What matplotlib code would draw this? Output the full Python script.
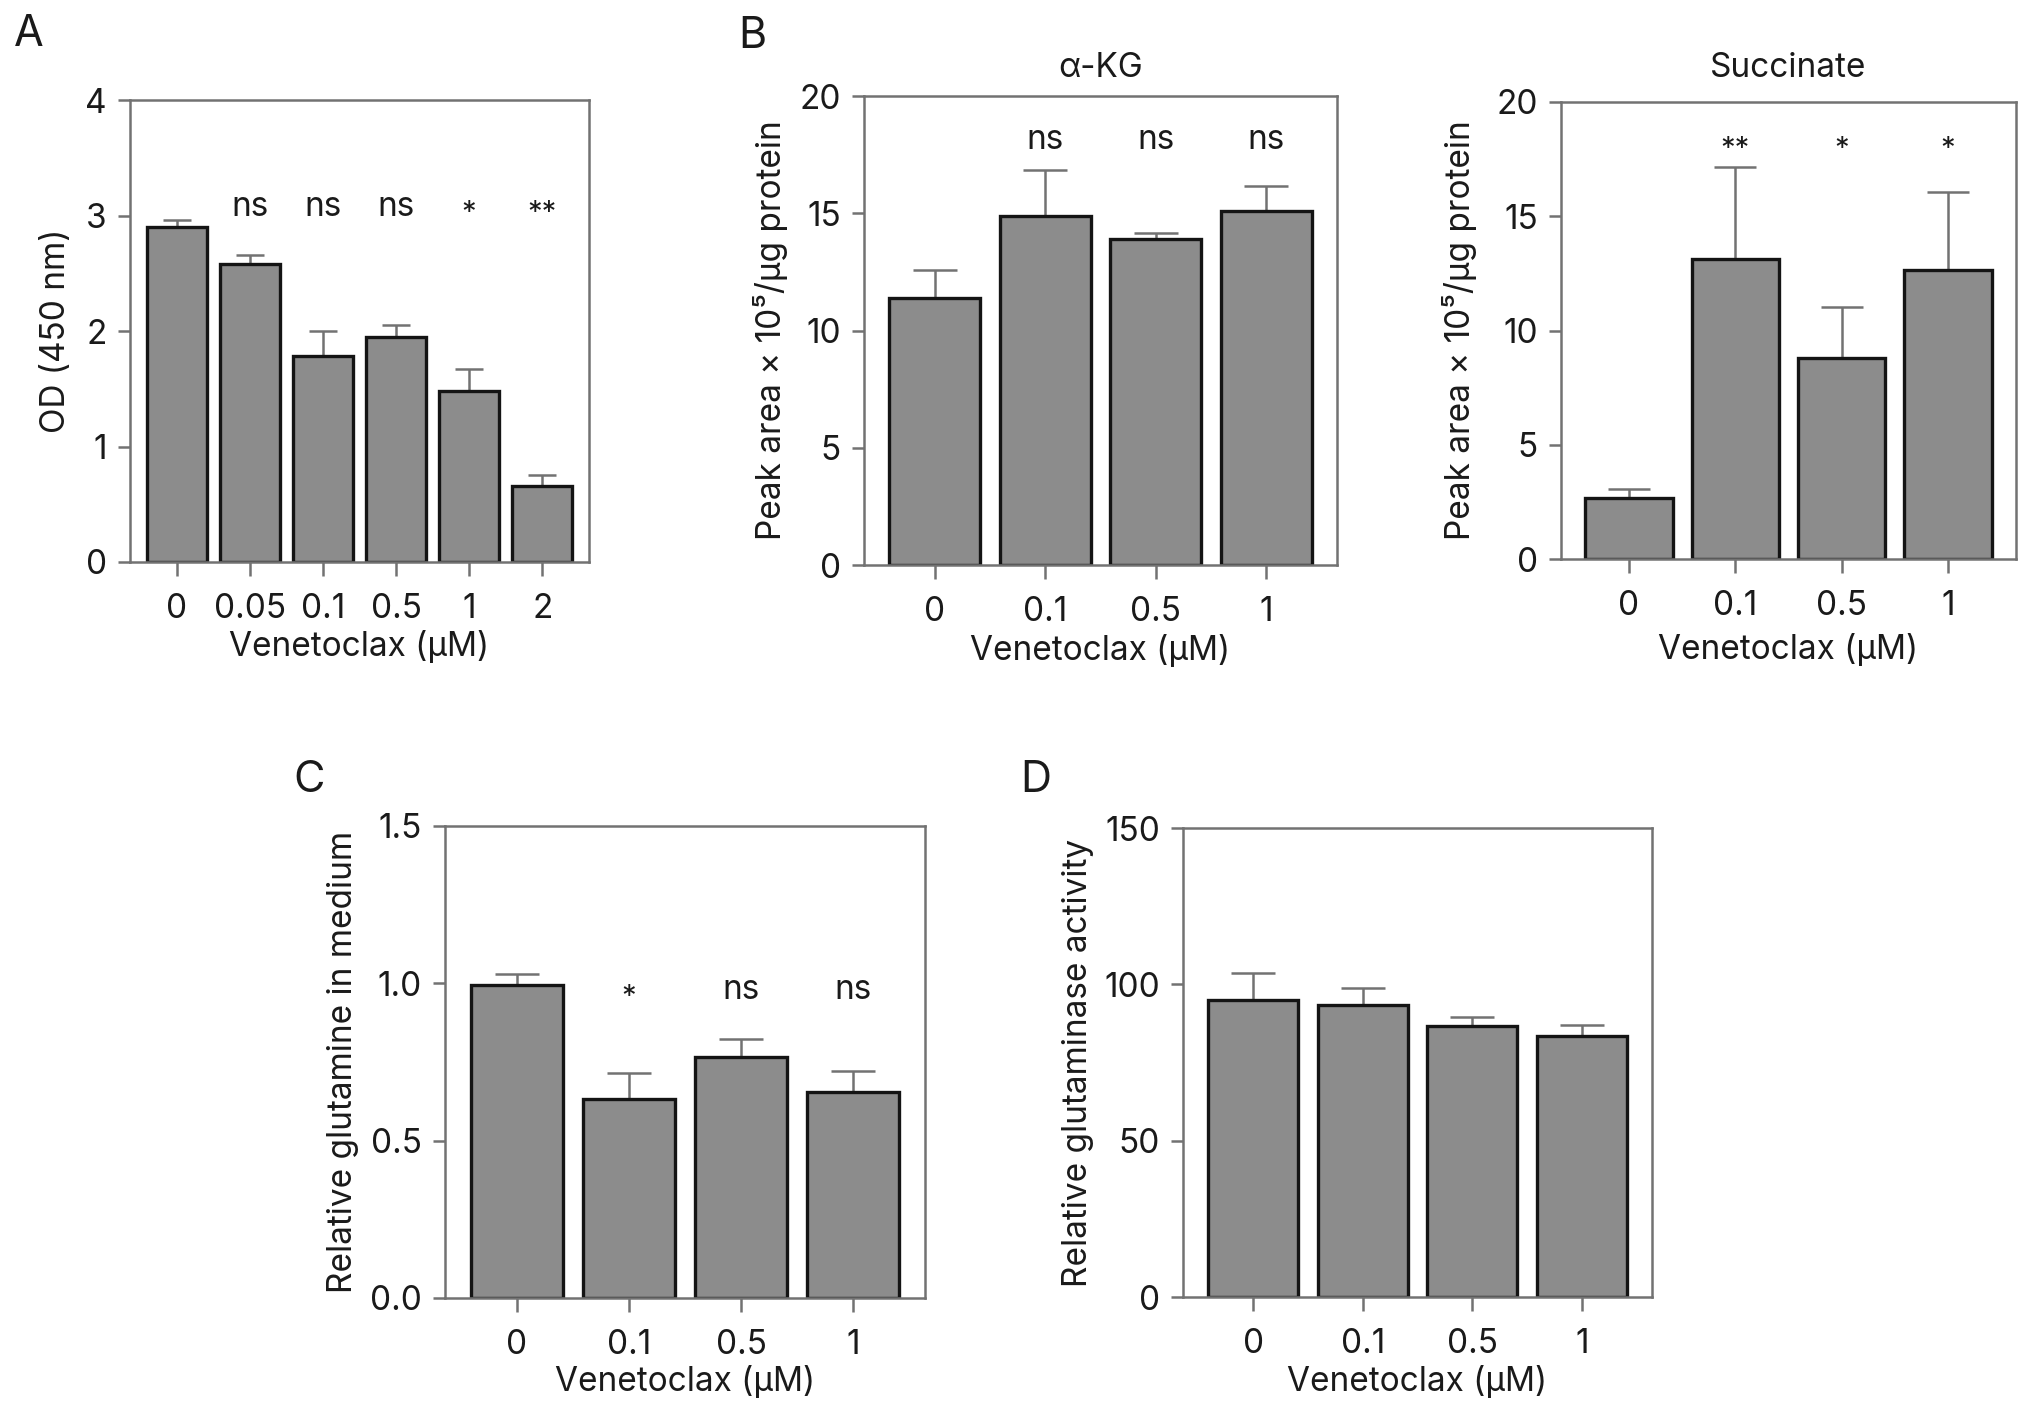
import matplotlib
matplotlib.use("Agg")
import matplotlib.pyplot as plt
import matplotlib.transforms as mtransforms

plt.rcParams['font.family'] = ['Inter', 'DejaVu Sans']

# Datos
dosis_a = ['0', '0.05', '0.1', '0.5', '1', '2']
od_a = [2.90, 2.58, 1.78, 1.95, 1.48, 0.66]
od_a_err = [0.06, 0.08, 0.22, 0.10, 0.19, 0.09]
sig_a = ['', 'ns', 'ns', 'ns', '*', '**']

dosis_b = ['0', '0.1', '0.5', '1']
akg = [11.37, 14.89, 13.92, 15.10]
akg_err = [1.22, 1.94, 0.25, 1.07]
sig_akg = ['', 'ns', 'ns', 'ns']

succ = [2.66, 13.12, 8.78, 12.64]
succ_err = [0.42, 4.03, 2.25, 3.44]
sig_succ = ['', '**', '*', '*']

glut = [0.994, 0.633, 0.766, 0.654]
glut_err = [0.036, 0.081, 0.058, 0.068]
sig_glut = ['', '*', 'ns', 'ns']

gls = [95.0, 93.3, 86.8, 83.4]
gls_err = [8.6, 5.6, 2.8, 3.7]

xlab = 'Venetoclax (\u00b5M)'
ylab_pico = 'Peak area \u00d7 10\u2075/\u00b5g protein'

W, H = 2032, 1410
TXT = '#1a1a1a'
GRIS = '#727272'
FS = 24

fig = plt.figure(figsize=(W / 100, H / 100), dpi=100)


def caja(x0, y0, x1, y1):
    # pixeles (desde arriba) -> fraccion de figura
    return [x0 / W, 1 - y1 / H, (x1 - x0) / W, (y1 - y0) / H]


def panel(box, etiquetas, valores, errores, ymax, yticks, ylabel, ylab_x, xlab_y,
          sig=None, sig_y=None, titulo=None, titulo_pad=14):
    ax = fig.add_axes(caja(*box))
    n = len(valores)
    x = list(range(n))
    ancho_px = (box[2] - box[0]) / (n - 1 + 1.28) * 0.82
    cap = ancho_px * 0.24 * 72 / 100
    ax.errorbar(x, valores, yerr=[[0] * n, errores], fmt='none', ecolor=GRIS,
                elinewidth=1.8, capsize=cap, capthick=1.8, zorder=1)
    ax.bar(x, valores, width=0.82, color='#8c8c8c', edgecolor='#141414',
           linewidth=2.4, zorder=2)
    ax.set_xlim(-0.64, n - 1 + 0.64)
    ax.set_ylim(0, ymax)
    ax.set_yticks(yticks)
    ax.set_xticks(x)
    ax.set_xticklabels(etiquetas)
    for s in ax.spines.values():
        s.set_color(GRIS)
        s.set_linewidth(1.8)
    ax.tick_params(axis='x', length=10, width=1.8, color=GRIS, pad=12,
                   labelsize=FS, labelcolor=TXT)
    ax.tick_params(axis='y', length=8.6, width=1.8, color=GRIS, pad=8,
                   labelsize=FS, labelcolor=TXT)
    ax.set_ylabel(ylabel, fontsize=FS, color=TXT)
    ax.yaxis.set_label_coords(ylab_x / W, 0.5,
                              transform=mtransforms.blended_transform_factory(fig.transFigure, ax.transAxes))
    ax.set_xlabel(xlab, fontsize=FS, color=TXT)
    ax.xaxis.set_label_coords(0.5, 1 - xlab_y / H,
                              transform=mtransforms.blended_transform_factory(ax.transAxes, fig.transFigure))
    if sig:
        for xi, s in zip(x, sig):
            if s == 'ns':
                ax.text(xi, sig_y, s, ha='center', va='baseline', fontsize=FS, color=TXT)
            elif s:
                ax.annotate(s, (xi, sig_y), xytext=(0, -4), textcoords='offset points',
                            ha='center', va='baseline', fontsize=21, color=TXT)
    if titulo:
        ax.set_title(titulo, fontsize=FS, color=TXT, pad=titulo_pad)
    return ax


panel((130, 100, 589, 562), dosis_a, od_a, od_a_err, 4, [0, 1, 2, 3, 4],
      'OD (450 nm)', 72, 630, sig_a, 3.0)
panel((864, 96, 1337, 565), dosis_b, akg, akg_err, 20, [0, 5, 10, 15, 20],
      ylab_pico, 788, 634, sig_akg, 17.74, titulo='\u03b1-KG', titulo_pad=14)
panel((1561, 102, 2016, 559), dosis_b, succ, succ_err, 20, [0, 5, 10, 15, 20],
      ylab_pico, 1477, 633, sig_succ, 17.85, titulo='Succinate', titulo_pad=18)
ax_c = panel((445, 826, 925, 1298), dosis_b, glut, glut_err, 1.5, [0.0, 0.5, 1.0, 1.5],
             'Relative glutamine in medium', 359, 1365, sig_glut, 0.95)
ax_d = panel((1183, 828, 1652, 1297), dosis_b, gls, gls_err, 150, [0, 50, 100, 150],
             'Relative glutaminase activity', 1094, 1365)

ax_c.set_yticklabels(['0.0', '0.5', '1.0', '1.5'])

for letra, px, py in [('A', 29, 35), ('B', 752, 36), ('C', 309, 780), ('D', 1036, 780)]:
    fig.text(px / W, 1 - py / H, letra, ha='center', va='center', fontsize=31, color=TXT)

fig.savefig('out.png', dpi=100, facecolor='white')
